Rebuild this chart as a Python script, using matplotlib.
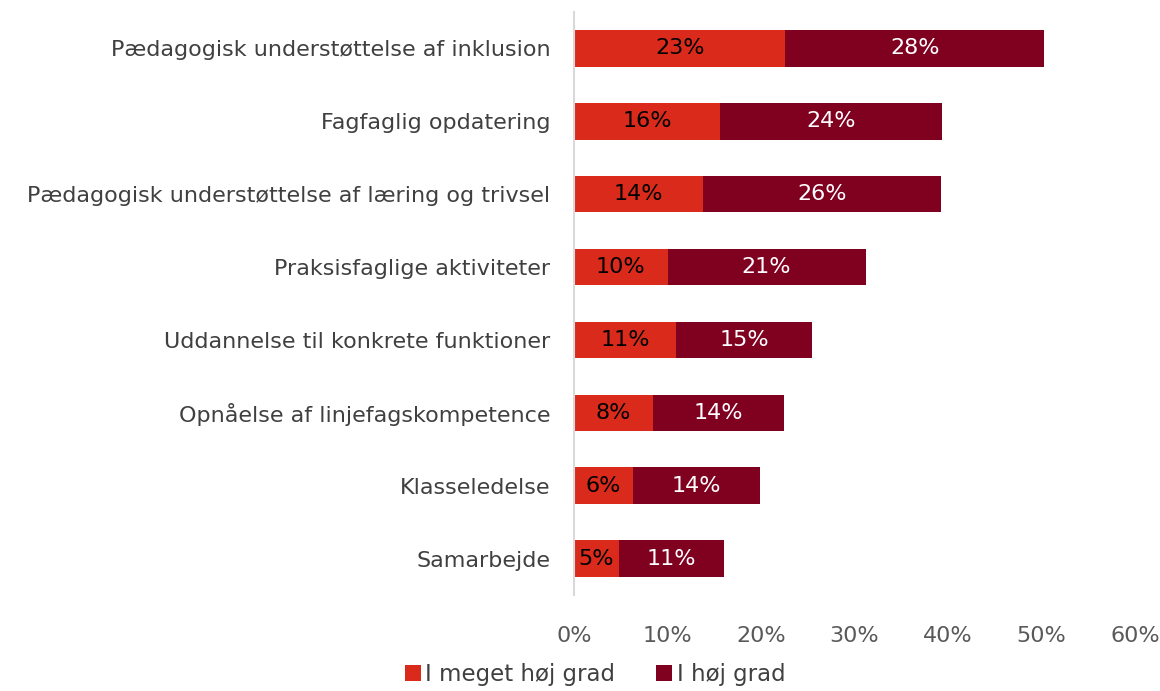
import numpy as np
import matplotlib.pyplot as plt

plt.rcParams['font.family'] = ['DejaVu Sans']

categories = ["Pædagogisk understøttelse af inklusion",
              "Fagfaglig opdatering",
              "Pædagogisk understøttelse af læring og trivsel",
              "Praksisfaglige aktiviteter",
              "Uddannelse til konkrete funktioner",
              "Opnåelse af linjefagskompetence",
              "Klasseledelse",
              "Samarbejde"]
meget_hoej = [22.6, 15.6, 13.8, 10.0, 10.9, 8.4, 6.3, 4.8]
hoej = [27.7, 23.8, 25.5, 21.2, 14.6, 14.1, 13.6, 11.2]
series_names = ["I meget høj grad", "I høj grad"]
xticks = [0, 10, 20, 30, 40, 50, 60]

red = "#D92A1C"
dark = "#800020"

fig = plt.figure(figsize=(11.6, 6.91), dpi=100)
ax = fig.add_axes([574/1160, 1 - 595/691, (1135-574)/1160, (595-12)/691])

y = np.arange(len(categories))
b1 = ax.barh(y, meget_hoej, height=0.5, color=red, label=series_names[0])
b2 = ax.barh(y, hoej, left=meget_hoej, height=0.5, color=dark, label=series_names[1])

for i in range(len(categories)):
    ax.text(meget_hoej[i]/2, y[i], "%d%%" % round(meget_hoej[i]), ha="center", va="center",
            fontsize=16, color="black")
    ax.text(meget_hoej[i] + hoej[i]/2, y[i], "%d%%" % round(hoej[i]), ha="center", va="center",
            fontsize=16, color="white")

ax.set_ylim(len(categories) - 0.5, -0.5)
ax.set_xlim(0, 60)
ax.set_yticks(y)
ax.set_yticklabels(categories, fontsize=16, color="#404040")
ax.set_xticks(xticks)
ax.set_xticklabels(["%d%%" % t for t in xticks], fontsize=16, color="#595959")
ax.tick_params(axis="both", length=0)
ax.tick_params(axis="y", pad=17)
ax.tick_params(axis="x", pad=22)
for s in ["top", "right", "bottom"]:
    ax.spines[s].set_visible(False)
ax.spines["left"].set_color("#D9D9D9")
ax.spines["left"].set_linewidth(1.5)

fig.legend(handles=[b1, b2], loc="center", bbox_to_anchor=(0.513, 0.024), ncol=2,
           frameon=False, fontsize=16.5, handlelength=0.7, handleheight=0.7,
           handletextpad=0.2, columnspacing=1.8, labelcolor="#404040")

fig.savefig("out.png", dpi=100)
